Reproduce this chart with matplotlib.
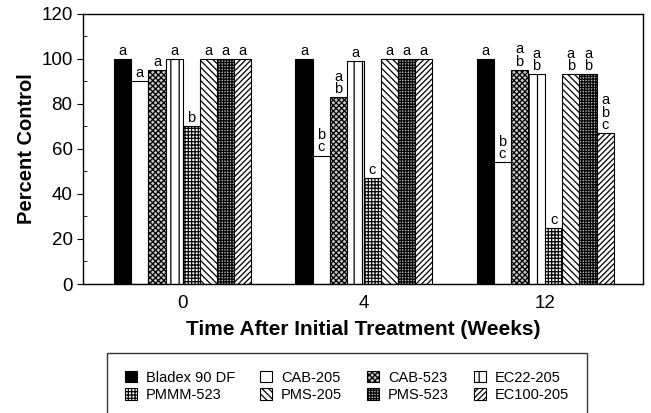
import numpy as np
import matplotlib.pyplot as plt
from matplotlib.ticker import MultipleLocator

plt.rcParams['font.family'] = ['Liberation Sans', 'DejaVu Sans']
plt.rcParams['hatch.linewidth'] = 0.9

weeks = ['0', '4', '12']
treatments = ['Bladex 90 DF', 'CAB-205', 'CAB-523', 'EC22-205',
              'PMMM-523', 'PMS-205', 'PMS-523', 'EC100-205']

# percent control, one list per treatment (weeks 0, 4, 12)
bladex = [100, 100, 100]
cab205 = [90, 57, 54]
cab523 = [95, 83, 95]
ec22 = [100, 99, 93]
pmmm = [70, 47, 25]
pms205 = [100, 100, 93]
pms523 = [100, 100, 93]
ec100 = [100, 100, 67]
values = [bladex, cab205, cab523, ec22, pmmm, pms205, pms523, ec100]

# mean separation letters
letters = [
    ['a', 'a', 'a'],
    ['a', 'b\nc', 'b\nc'],
    ['a', 'a\nb', 'a\nb'],
    ['a', 'a', 'a\nb'],
    ['b', 'c', 'c'],
    ['a', 'a', 'a\nb'],
    ['a', 'a', 'a\nb'],
    ['a', 'a', 'a\nb\nc'],
]

# (facecolor, hatch)
styles = [
    ('black', None),
    ('white', None),
    ('#c8c8c8', 'xxxxxx'),
    ('white', '||'),
    ('white', '+++++'),
    ('white', '\\\\\\\\\\'),
    ('#b0b0b0', '++++++'),
    ('white', '//////'),
]

fig = plt.figure(figsize=(6.51, 4.13), dpi=100)
ax = fig.add_axes([0.1275, 0.3123, 0.8602, 0.6547])

x = np.arange(len(weeks))
w = 0.0945
handles = []
for i, (vals, (fc, hatch)) in enumerate(zip(values, styles)):
    pos = x + (i - 3.5) * w
    b = ax.bar(pos, vals, width=w, facecolor=fc, edgecolor='black',
               hatch=hatch, linewidth=0.8, label=treatments[i])
    handles.append(b)
    for p, v, lab in zip(pos, vals, letters[i]):
        ax.text(p, v + 0.5, lab, ha='center', va='bottom', fontsize=10.5,
                linespacing=0.85)

ax.set_xlim(-0.55, 2.54)
ax.set_ylim(0, 120)
ax.set_xticks(x)
ax.set_xticklabels(weeks)
ax.tick_params(axis='x', length=0, labelsize=13.5, pad=8)
ax.yaxis.set_major_locator(MultipleLocator(20))
ax.yaxis.set_minor_locator(MultipleLocator(10))
ax.tick_params(axis='y', which='major', direction='out', length=4, labelsize=13.5)
ax.tick_params(axis='y', which='minor', direction='in', length=3)
for s in ax.spines.values():
    s.set_linewidth(1.0)

ax.set_ylabel('Percent Control', fontsize=14.5, fontweight='bold', labelpad=4)
ax.set_xlabel('Time After Initial Treatment (Weeks)', fontsize=15,
              fontweight='bold', labelpad=6)

# legend filled column-wise, so reorder to read row-wise
order = [0, 4, 1, 5, 2, 6, 3, 7]
leg = fig.legend([handles[k] for k in order], [treatments[k] for k in order],
                 ncol=4, loc='upper left',
                 bbox_to_anchor=(107 / 651, 1 - 353 / 413),
                 borderaxespad=0, frameon=True, fancybox=False,
                 edgecolor='black', fontsize=10.5, handlelength=0.85,
                 handleheight=0.85, handletextpad=0.6, columnspacing=1.7,
                 labelspacing=0.25, borderpad=1.2)
leg.get_frame().set_linewidth(1.0)

fig.savefig('out.png', dpi=100)
